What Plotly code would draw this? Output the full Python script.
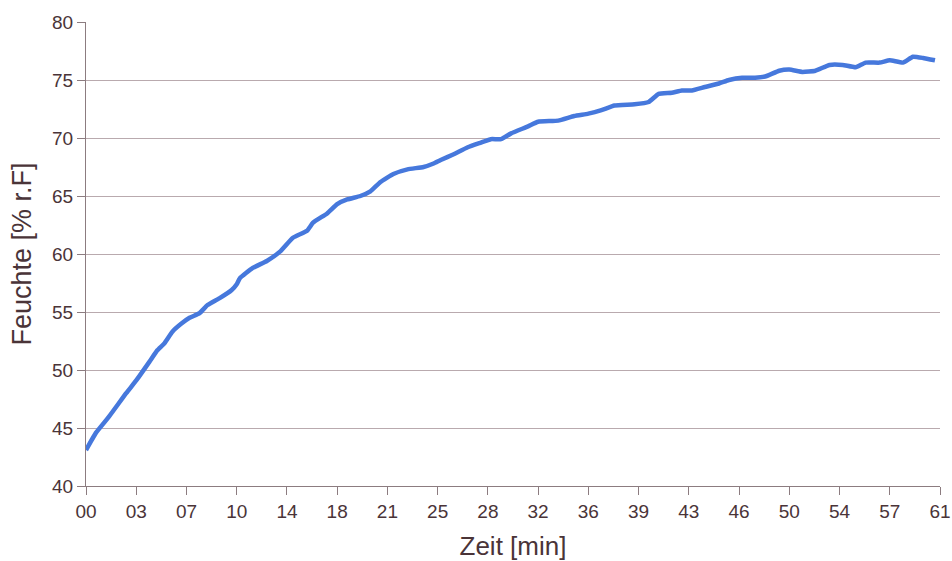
import plotly.graph_objects as go

# Time in minutes and relative humidity (% r.F)
zeit_min = [0, 0.72, 1.66, 2.88, 3.6, 4.54, 5.11, 5.62, 6.19, 6.84, 7.42, 8.14, 8.71, 9.58,
            10.44, 10.8, 11.02, 11.95, 12.96, 13.9, 14.83, 15.84, 16.27, 17.28, 18.0, 18.72,
            19.66, 20.38, 21.1, 22.03, 23.04, 24.19, 24.91, 25.42, 26.35, 27.36, 28.3, 29.02,
            29.74, 30.46, 31.68, 32.4, 33.84, 34.99, 36.0, 36.94, 37.87, 39.31, 40.32, 41.04,
            41.98, 42.7, 43.42, 44.35, 45.36, 46.08, 47.02, 47.95, 48.67, 49.68, 50.4, 51.34,
            52.27, 53.28, 54.22, 55.15, 55.87, 56.88, 57.6, 58.54, 59.26, 59.98, 60.84]
feuchte = [43.1, 44.6, 46.0, 48.0, 49.1, 50.7, 51.7, 52.3, 53.3, 54.0, 54.5, 54.9, 55.6, 56.2,
           56.9, 57.4, 57.9, 58.8, 59.4, 60.2, 61.4, 62.0, 62.7, 63.5, 64.3, 64.7,
           65.0, 65.4, 66.2, 66.9, 67.3, 67.5, 67.8, 68.1, 68.6, 69.2, 69.6, 69.9,
           69.9, 70.4, 71.0, 71.4, 71.5, 71.9, 72.1, 72.4, 72.8, 72.9, 73.1, 73.8,
           73.9, 74.1, 74.1, 74.4, 74.7, 75.0, 75.2, 75.2, 75.3, 75.8, 75.9, 75.7,
           75.8, 76.3, 76.3, 76.1, 76.5, 76.5, 76.7, 76.5, 77.0, 76.9, 76.7]

x_tick_vals = [0, 3.6, 7.2, 10.8, 14.4, 18.0, 21.6, 25.2, 28.8, 32.4, 36.0, 39.6, 43.2,
               46.8, 50.4, 54.0, 57.6, 61.2]
x_tick_text = ["00", "03", "07", "10", "14", "18", "21", "25", "28", "32", "36", "39", "43",
               "46", "50", "54", "57", "61"]
y_tick_vals = [40, 45, 50, 55, 60, 65, 70, 75, 80]

text_color = "#4a3438"
grid_color = "#b9aaae"
axis_color = "#8c7c80"

fig = go.Figure()
fig.add_trace(go.Scatter(
    x=zeit_min, y=feuchte, mode="lines",
    line=dict(color="#4678dc", width=4.5, shape="spline", smoothing=0.4),
    showlegend=False, hoverinfo="skip",
))

fig.update_layout(
    width=952, height=561,
    margin=dict(l=86, r=12, t=22, b=75, autoexpand=False),
    paper_bgcolor="white", plot_bgcolor="white",
    font=dict(family="Liberation Sans, Arial, sans-serif", color=text_color, size=19),
)
fig.update_xaxes(
    range=[0, 61.2], tickmode="array", tickvals=x_tick_vals, ticktext=x_tick_text,
    showgrid=False, zeroline=False, automargin=False,
    showline=True, linecolor=axis_color, linewidth=1,
    ticks="outside", ticklen=8, tickcolor=axis_color,
    tickfont=dict(size=19, color=text_color),
    title=dict(text="Zeit [min]", font=dict(size=26, color=text_color), standoff=16),
)
fig.update_yaxes(
    range=[40, 80], tickmode="array", tickvals=y_tick_vals,
    showgrid=True, gridcolor=grid_color, gridwidth=1, zeroline=False, automargin=False,
    showline=True, linecolor=axis_color, linewidth=1,
    ticks="outside", ticklen=8, tickcolor=axis_color,
    tickfont=dict(size=19, color=text_color),
    title=dict(text="Feuchte [% r.F]", font=dict(size=27, color=text_color), standoff=12),
)

fig.write_html(
    "out.html",
    config={"displayModeBar": False},
    post_script="document.body.style.margin='0';document.body.style.overflow='hidden';",
)
